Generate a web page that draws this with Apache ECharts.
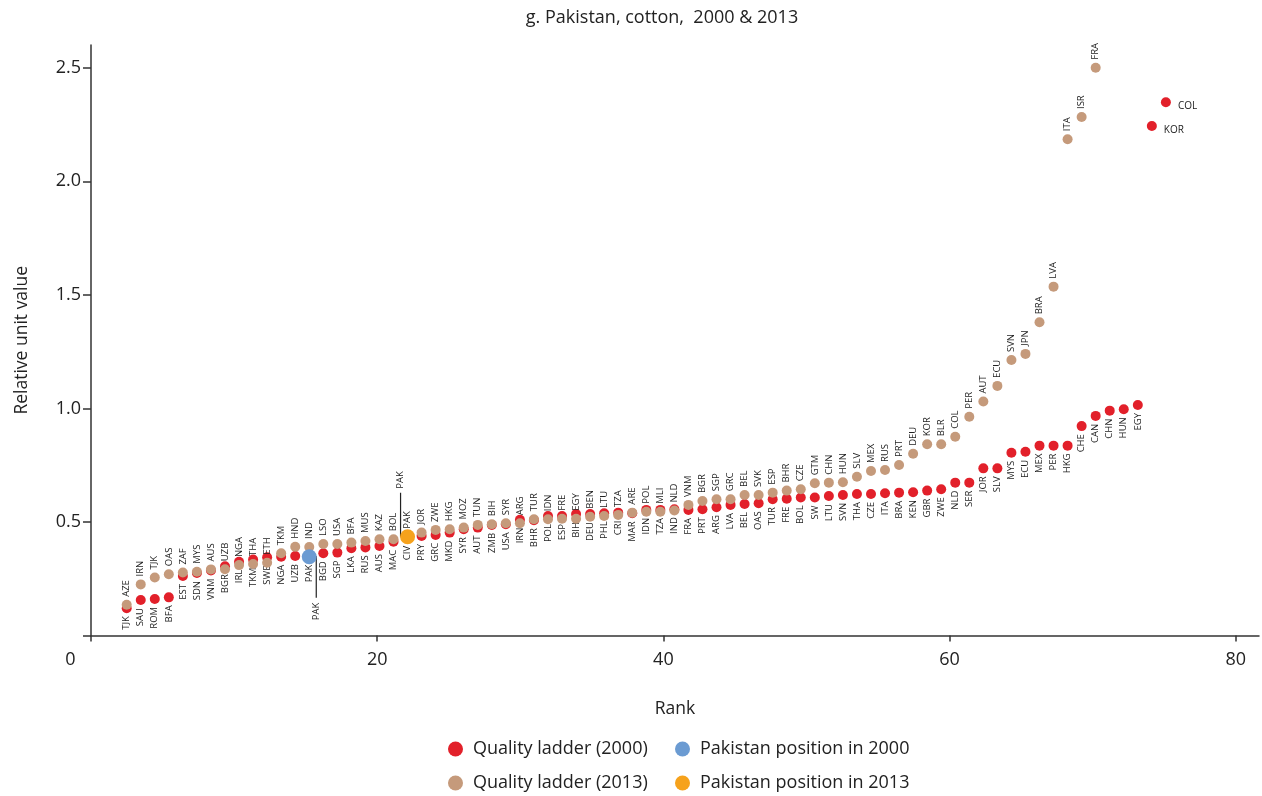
<!DOCTYPE html>
<html><head><meta charset="utf-8">
<script src="https://cdn.jsdelivr.net/npm/echarts@6/dist/echarts.min.js"></script>
<style>html,body{margin:0;padding:0;background:#fff}#c{width:1262px;height:796px}</style>
</head><body><div id="c"></div>
<script>
const chartTitle = 'g. Pakistan, cotton,  2000 & 2013';
const xName = 'Rank';
const yName = 'Relative unit value';
const xTickValues = [0, 20, 40, 60, 80];
const yTickValues = [0, 0.5, 1, 1.5, 2, 2.5];

const countries2000 = ['TJK','SAU','ROM','BFA','EST','SDN','VNM','BGR','IRL','TKM','SWE','NGA','UZB','PAK','BGD','SGP','LKA','RUS','AUS','MAC','CIV','PRY','GRC','MKD','SYR','AUT','ZMB','USA','IRN','BHR','POL','ESP','BIH','DEU','PHL','CRI','MAR','IDN','TZA','IND','FRA','PRT','ARG','LVA','BEL','OAS','TUR','FRE','BOL','SW','LTU','SVN','THA','CZE','ITA','BRA','KEN','GBR','ZWE','NLD','SER','JOR','SLV','MYS','ECU','MEX','PER','HKG','CHE','CAN','CHN','HUN','EGY','KOR','COL'];
const values2000 = [0.120,0.156,0.161,0.168,0.262,0.275,0.286,0.305,0.325,0.335,0.344,0.347,0.350,0.347,0.362,0.365,0.384,0.388,0.394,0.413,0.430,0.438,0.443,0.453,0.468,0.475,0.487,0.490,0.510,0.508,0.526,0.526,0.535,0.535,0.538,0.541,0.538,0.553,0.553,0.556,0.553,0.556,0.565,0.575,0.579,0.582,0.600,0.602,0.608,0.608,0.614,0.619,0.623,0.623,0.626,0.629,0.631,0.638,0.644,0.673,0.673,0.736,0.736,0.805,0.809,0.836,0.836,0.836,0.922,0.967,0.990,0.996,1.015,2.243,2.348];

const countries2013 = ['AZE','IRN','TJK','OAS','ZAF','MYS','AUS','UZB','NGA','THA','ETH','TKM','HND','IND','LSO','USA','BFA','MUS','KAZ','BOL','PAK','JOR','ZWE','HKG','MOZ','TUN','BIH','SYR','ARG','TUR','IDN','FRE','EGY','BEN','LTU','TZA','ARE','POL','MLI','NLD','VNM','BGR','SGP','GRC','BEL','SVK','ESP','BHR','CZE','GTM','CHN','HUN','SLV','MEX','RUS','PRT','DEU','KOR','BLR','COL','PER','AUT','ECU','SVN','JPN','BRA','LVA','ITA','ISR','FRA'];
const values2013 = [0.135,0.225,0.255,0.270,0.277,0.281,0.291,0.292,0.310,0.315,0.320,0.362,0.391,0.390,0.403,0.403,0.409,0.416,0.424,0.424,0.435,0.453,0.465,0.468,0.475,0.487,0.490,0.494,0.494,0.512,0.512,0.514,0.514,0.523,0.526,0.531,0.541,0.545,0.545,0.550,0.575,0.592,0.600,0.600,0.619,0.619,0.629,0.638,0.644,0.670,0.673,0.675,0.699,0.724,0.729,0.751,0.800,0.842,0.842,0.875,0.963,1.030,1.099,1.213,1.240,1.379,1.536,2.185,2.283,2.500];

const sideLabelled2000 = ['KOR', 'COL'];
const focus = 'PAK';

const names = {
  q2000: 'Quality ladder (2000)', q2013: 'Quality ladder (2013)',
  p2000: 'Pakistan position in 2000', p2013: 'Pakistan position in 2013'
};
const colors = { q2000: '#e2202a', q2013: '#c59a7b', p2000: '#6b9bd2', p2013: '#f6a21c' };
const FONT = "'Open Sans', 'Noto Sans', sans-serif";

const chart = echarts.init(document.getElementById('c'), null, { renderer: 'canvas' });

function ladder(countries, values) {
  return countries.map((c, i) => ({ name: c, value: [i + 1, values[i]] }));
}
const data2000 = ladder(countries2000, values2000).map(d => {
  if (sideLabelled2000.indexOf(d.name) >= 0) {
    d.label = { position: 'right', rotate: 0, align: 'left', verticalAlign: 'middle', distance: 7, offset: [0, 4], fontSize: 10 };
  }
  return d;
});
const data2013 = ladder(countries2013, values2013);
const pak2000Rank = countries2000.indexOf(focus) + 1;
const pak2013Rank = countries2013.indexOf(focus) + 1;
const pak2000 = [[pak2000Rank, values2000[pak2000Rank - 1]]];
const pak2013 = [[pak2013Rank, values2013[pak2013Rank - 1]]];

const labelBase = { show: true, formatter: '{b}', fontSize: 9.5, fontFamily: FONT, color: '#222', rotate: 90, verticalAlign: 'middle', distance: 3 };

const legendCommon = { icon: 'circle', itemWidth: 25, itemHeight: 15, orient: 'horizontal',
  textStyle: { fontSize: 18, fontFamily: FONT, color: '#222' }, selectedMode: false };

const option = {
  animation: false,
  backgroundColor: '#fff',
  title: { text: chartTitle, left: 657, top: 4, textAlign: 'center',
    textStyle: { fontSize: 18, fontWeight: 'normal', fontFamily: FONT, color: '#222' } },
  legend: [
    Object.assign({ data: [names.q2000], left: 443, top: 735 }, legendCommon),
    Object.assign({ data: [names.p2000], left: 670, top: 735 }, legendCommon),
    Object.assign({ data: [names.q2013], left: 443, top: 769 }, legendCommon),
    Object.assign({ data: [names.p2013], left: 670, top: 769 }, legendCommon)
  ],
  grid: { left: 91, top: 45, width: 1168, height: 590.5, containLabel: false },
  xAxis: [
    { type: 'value', min: 0, max: 81.62, name: xName, nameLocation: 'middle', nameGap: 65,
      nameTextStyle: { fontSize: 17.5, fontFamily: FONT, color: '#222' },
      axisLine: { show: true, onZero: false, lineStyle: { color: '#333', width: 1.5 } },
      axisTick: { show: true, length: 6, customValues: xTickValues, lineStyle: { color: '#333', width: 1.5 } },
      axisLabel: { customValues: xTickValues.filter(v => v !== 0), margin: 15, fontSize: 18, fontFamily: FONT, color: '#222',
        formatter: v => (xTickValues.indexOf(v) > 0 ? String(v) : '') },
      splitLine: { show: false } },
    { type: 'value', min: -1.542, max: 81.63, show: false, splitLine: { show: false } }
  ],
  yAxis: [
    { type: 'value', min: 0, max: 2.6, name: yName, nameLocation: 'middle', nameGap: 60,
      nameTextStyle: { fontSize: 17.5, fontFamily: FONT, color: '#222' },
      axisLine: { show: true, onZero: false, lineStyle: { color: '#333', width: 1.5 } },
      axisTick: { show: true, length: 8, customValues: yTickValues, lineStyle: { color: '#333', width: 1.5 } },
      axisLabel: { customValues: yTickValues.filter(v => v !== 0), margin: 10, fontSize: 18, fontFamily: FONT, color: '#222',
        formatter: v => (v === 0 ? '' : v.toFixed(1)) },
      splitLine: { show: false } }
  ],
  series: [
    { name: names.q2000, type: 'scatter', xAxisIndex: 1, yAxisIndex: 0, data: data2000,
      symbolSize: 10, itemStyle: { color: colors.q2000, opacity: 1 }, z: 2,
      label: Object.assign({}, labelBase, { position: 'bottom', align: 'right' }) },
    { name: names.q2013, type: 'scatter', xAxisIndex: 1, yAxisIndex: 0, data: data2013,
      symbolSize: 10, itemStyle: { color: colors.q2013, opacity: 1 }, z: 3,
      label: Object.assign({}, labelBase, { position: 'top', align: 'left' }) },
    { name: names.p2000, type: 'scatter', xAxisIndex: 1, yAxisIndex: 0, data: pak2000,
      symbolSize: 15, itemStyle: { color: colors.p2000, opacity: 1 }, z: 4 },
    { name: names.p2013, type: 'scatter', xAxisIndex: 1, yAxisIndex: 0, data: pak2013,
      symbolSize: 15, itemStyle: { color: colors.p2013, opacity: 1 }, z: 4 }
  ]
};
chart.setOption(option);

// leader-line annotations derived from the Pakistan points
const q = { xAxisIndex: 1, yAxisIndex: 0 };
const a = chart.convertToPixel(q, pak2000[0]);
const b = chart.convertToPixel(q, pak2013[0]);
const lineStyle = { stroke: '#222', lineWidth: 1.2, fill: null };
const txtStyle = { text: focus, fontSize: 9.5, fontFamily: FONT, fill: '#222', verticalAlign: 'middle' };
chart.setOption({
  graphic: [
    { type: 'polyline', z: 1, shape: { points: [[a[0], a[1]], [a[0] + 7, a[1]], [a[0] + 7, a[1] + 41]] }, style: lineStyle },
    { type: 'text', x: a[0] + 7, y: a[1] + 46, rotation: Math.PI / 2, style: Object.assign({ align: 'right' }, txtStyle) },
    { type: 'polyline', z: 1, shape: { points: [[b[0], b[1]], [b[0] - 7, b[1]], [b[0] - 7, b[1] - 44]] }, style: lineStyle },
    { type: 'text', x: b[0] - 7, y: b[1] - 48, rotation: Math.PI / 2, style: Object.assign({ align: 'left' }, txtStyle) },
    { type: 'text', x: 70.5, y: 660, style: { text: '0', fontSize: 18, fontFamily: FONT, fill: '#222', align: 'center', verticalAlign: 'middle' } }
  ]
});
</script></body></html>
